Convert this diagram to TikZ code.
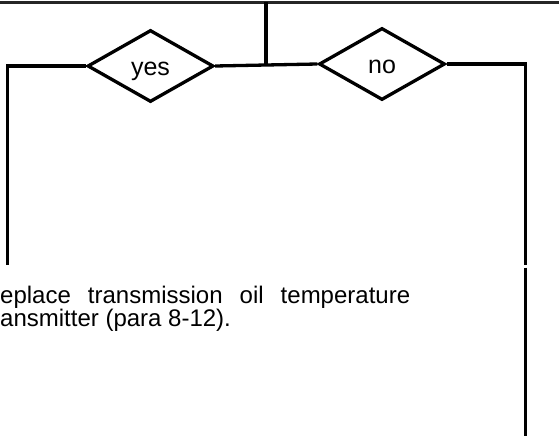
\documentclass[tikz,border=0pt]{standalone}
\usepackage{fontspec}
\setmainfont{Liberation Sans}
\usetikzlibrary{shapes.geometric,positioning}

\begin{document}
\begin{tikzpicture}[x=1pt,y=-1pt,
  decision/.style={draw=black,shape=diamond,line width=3.3pt,inner sep=0pt,
                   minimum width=126pt,minimum height=72pt,
                   font=\fontsize{25}{25}\selectfont,
                   text height=19pt,text depth=0pt},
  wire/.style={draw=black,line width=3.3pt},
  toprule/.style={draw=black!85,line width=3.2pt},
  note/.style={inner sep=0pt,align=left,
               font=\fontsize{24}{17.3}\selectfont}
]
\useasboundingbox (0,0) rectangle (559,436);

% Decisions
\node[decision] (yes) at (150.5,66) {yes};
\node[decision] (no)  at (382,64)   {no};

% Corner points
\coordinate (tl) at (0,2.5);
\coordinate (tr) at (559,2.5);
\coordinate (tm) at (266,2.5);
\coordinate (jn) at (266,65);
\coordinate (lc) at (7.5,66);
\coordinate (le) at (7.5,265);
\coordinate (rc) at (525.5,64);
\coordinate (re) at (525.5,264.5);
\coordinate (rs) at (525.5,267.5);
\coordinate (rb) at (525.5,436);

% Action text
\node[note,anchor=base west] (act) at (0,326.7)
  {\makebox[410pt][s]{eplace transmission oil temperature}\\ansmitter (para 8-12).};

% Lines
\draw[toprule] (tl) -- (tr);
\draw[wire] (tm) -- (jn);
\draw[wire] (yes.east) -- (no.west);
\draw[wire] (yes.west) -- (lc) -- (le);
\draw[wire] (no.east) -- (rc) -- (re);
\draw[wire] (rs) -- (rb);

\end{tikzpicture}
\end{document}
